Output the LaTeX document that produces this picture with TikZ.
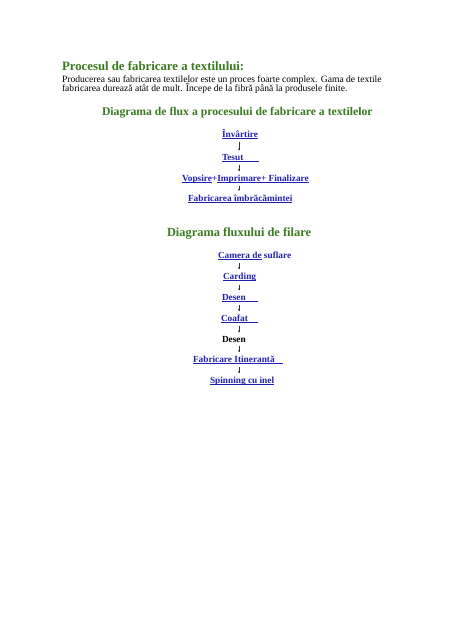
\documentclass[tikz,border=0pt]{standalone}
\usepackage{fontspec}
\setmainfont{Liberation Serif}
\usetikzlibrary{arrows.meta}
\definecolor{hgreen}{RGB}{58,122,32}
\definecolor{lnk}{RGB}{32,32,176}
\newcommand{\lk}[1]{\setbox0\hbox{#1}\rlap{\rule[-1.1pt]{\wd0}{0.55pt}}\box0\relax}
\begin{document}
\begin{tikzpicture}[x=1pt,y=-1pt,
  every node/.style={inner sep=0pt,outer sep=0pt,anchor=base west},
  htitle/.style={font=\fontsize{12.8}{14}\selectfont\bfseries,text=hgreen},
  hsubA/.style={font=\fontsize{11.7}{13}\selectfont\bfseries,text=hgreen},
  hsubB/.style={font=\fontsize{12.4}{14}\selectfont\bfseries,text=hgreen},
  body/.style={font=\fontsize{9.6}{9.2}\selectfont},
  item/.style={font=\fontsize{9.3}{10}\selectfont\bfseries,text=lnk},
  plain/.style={font=\fontsize{9.3}{10}\selectfont\bfseries,text=black},
  flow/.style={-{To[length=2pt,width=2pt]},line width=0.45pt,black!80,shorten <=3.5pt,shorten >=3.5pt}]
\fill[white] (0,0) rectangle (474,632);
\useasboundingbox (0,0) rectangle (474,632);
\node[htitle] (title) at (62,70.5) {Procesul de fabricare a textilului:};
\node[body] (p1) at (62,82) {Producerea sau fabricarea textilelor este un proces foarte complex. Gama de textile};
\node[body] (p2) at (62,91) {fabricarea durează atât de mult. Începe de la fibră până la produsele finite.};
\node[hsubA] (h1) at (102,115) {Diagrama de flux a procesului de fabricare a textilelor};
\coordinate (ax) at (239,0);
\node[item] (a1) at (222,137) {\lk{Învârtire}};
\node[item] (a2) at (222,160) {\lk{Tesut\hspace{16pt}}};
\node[item] (a3) at (182,181) {\lk{Vopsire}+\lk{Imprimare}\lk{+ Finalizare}};
\node[item] (a4) at (188,201) {\lk{Fabricarea îmbrăcămintei}};
\node[hsubB] (h2) at (167,236) {Diagrama fluxului de filare};
\node[item] (b1) at (218,258) {\lk{Camera de} suflare};
\node[item] (b2) at (223,279) {\lk{Carding}};
\node[item] (b3) at (222,300) {\lk{Desen\hspace{12pt}}};
\node[item] (b4) at (221,321) {\lk{Coafat\hspace{10pt}}};
\node[plain] (b5) at (222,342) {Desen};
\node[item] (b6) at (193,362) {\lk{Fabricare Itinerantă\hspace{8pt}}};
\node[item] (b7) at (210,383) {\lk{Spinning cu inel}};
\foreach \u/\v in {a1/a2,a2/a3,a3/a4,b1/b2,b2/b3,b3/b4,b4/b5,b5/b6,b6/b7}
  \draw[flow] (\u.south -| ax) -- (\v.north -| ax);
\end{tikzpicture}
\end{document}
